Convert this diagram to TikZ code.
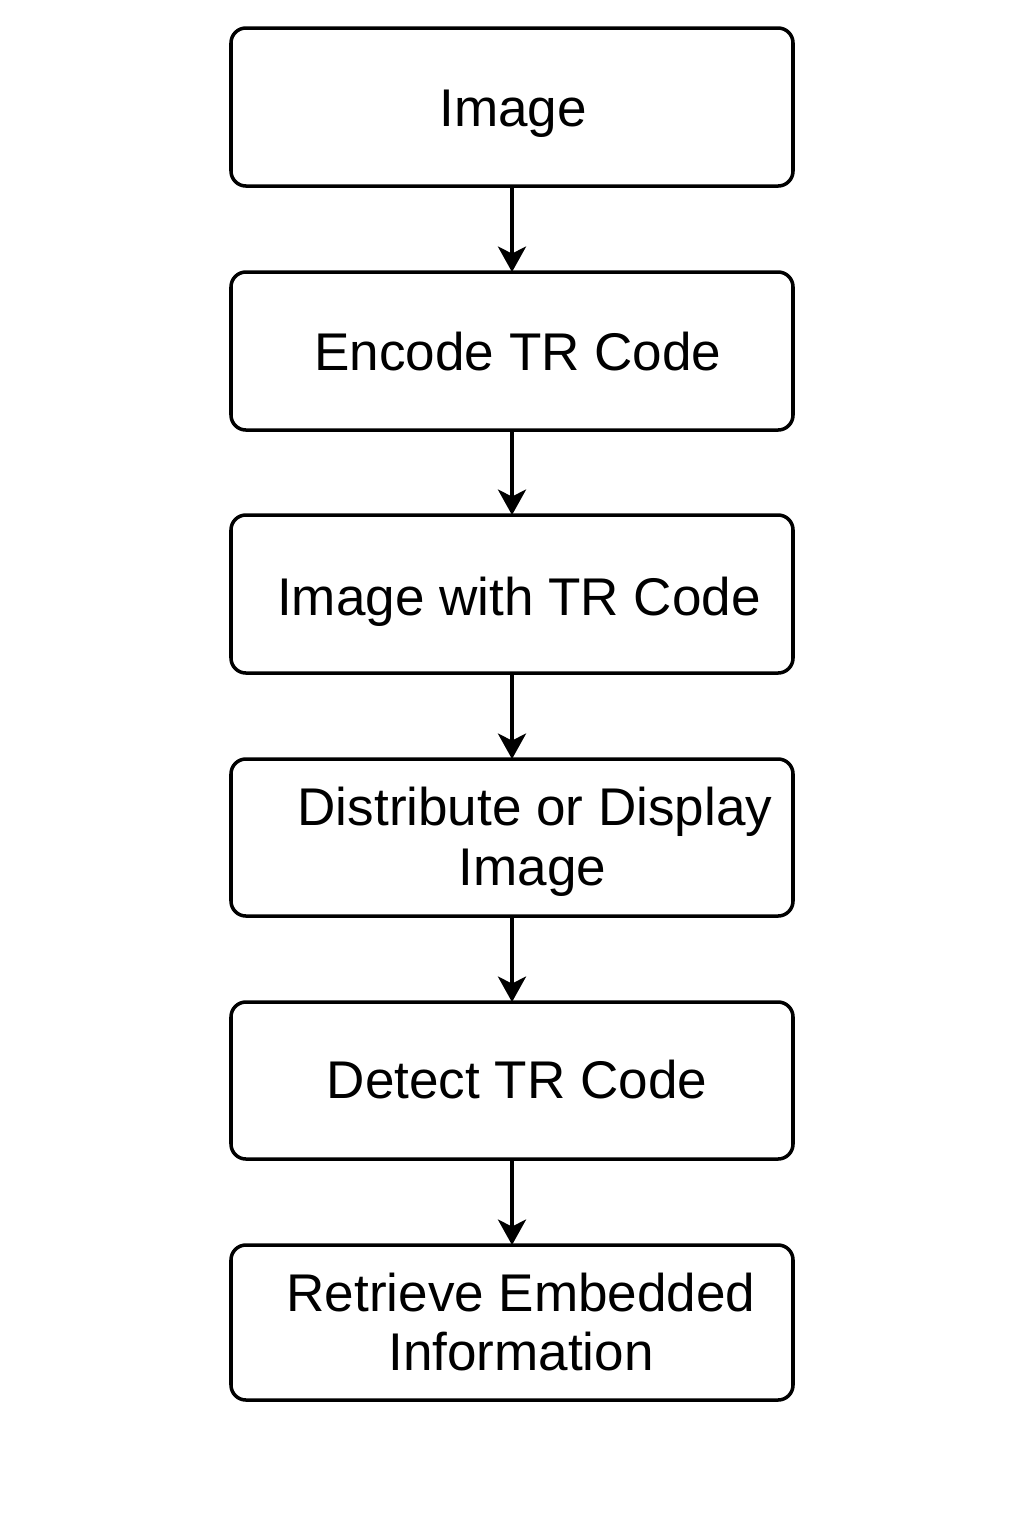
\documentclass[tikz,border=0pt]{standalone}
\usepackage{fontspec}
\setmainfont{Liberation Sans}
\usetikzlibrary{arrows.meta}
\begin{document}
\begin{tikzpicture}[x=0.02cm,y=-0.02cm,
  stepbox/.style={draw, line width=2pt, rounded corners=8.5pt},
  lbl/.style={font=\fontsize{30.2pt}{34pt}\selectfont, align=center, inner sep=0pt},
  conn/.style={line width=2pt, -{Stealth[length=14.5pt,width=16pt,inset=4pt]}}]
\useasboundingbox (0,0) rectangle (1024,1536);
\fill[white] (0,0) rectangle (1024,1536);
\draw[stepbox] (231,28) rectangle (793,186);
\coordinate (b1) at (512,186);
\draw[stepbox] (231,272) rectangle (793,430);
\coordinate (b2t) at (512,272); \coordinate (b2) at (512,430);
\draw[stepbox] (231,515) rectangle (793,673);
\coordinate (b3t) at (512,515); \coordinate (b3) at (512,673);
\draw[stepbox] (231,759) rectangle (793,916);
\coordinate (b4t) at (512,759); \coordinate (b4) at (512,916);
\draw[stepbox] (231,1002) rectangle (793,1159);
\coordinate (b5t) at (512,1002); \coordinate (b5) at (512,1159);
\draw[stepbox] (231,1245) rectangle (793,1400);
\coordinate (b6t) at (512,1245);
\node[lbl] (t1) at (513,114) {Image};
\node[lbl] (t2) at (518,352) {Encode TR Code};
\node[lbl] (t3) at (519,602) {Image with TR Code};
\node[lbl] (t4) at (535,842) {Distribute or Display\\\hspace*{-3pt}Image};
\node[lbl] (t5) at (517,1080) {Detect TR Code};
\node[lbl] (t6) at (521,1322) {Retrieve Embedded\\Information};
\draw[conn] (b1) -- (b2t);
\draw[conn] (b2) -- (b3t);
\draw[conn] (b3) -- (b4t);
\draw[conn] (b4) -- (b5t);
\draw[conn] (b5) -- (b6t);
\end{tikzpicture}
\end{document}
